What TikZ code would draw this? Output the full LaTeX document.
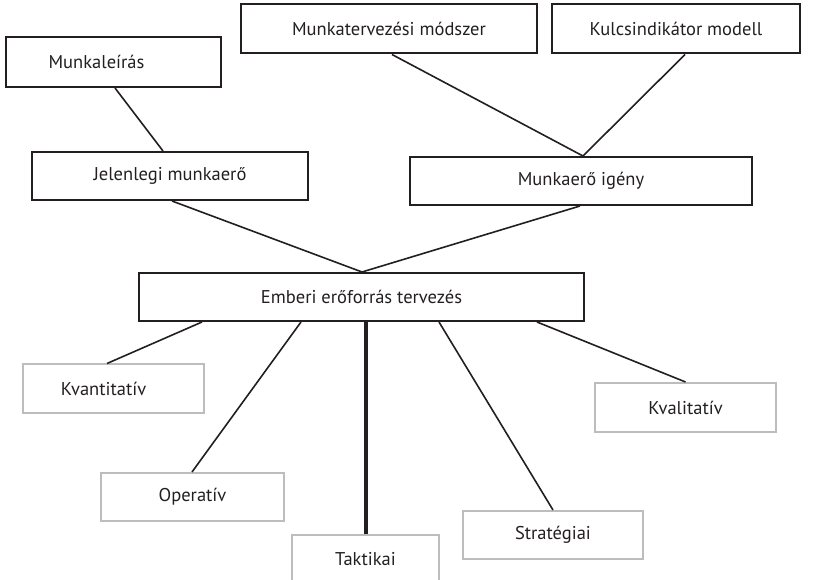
\documentclass[tikz,border=0pt]{standalone}
\usepackage{fontspec}
\setmainfont{PT Sans}
\definecolor{ink}{HTML}{231F20}
\definecolor{frame}{HTML}{BDBDBD}
\begin{document}
\begin{tikzpicture}[x=1pt,y=-1pt,
  every node/.style={font=\fontsize{18.5}{20}\selectfont, text=ink, inner sep=0pt},
  mainbox/.style={draw=ink, line width=2pt, rectangle},
  subbox/.style={draw=frame, line width=2pt, rectangle},
  link/.style={draw=ink, line width=1.6pt},
  boldlink/.style={draw=ink, line width=3.2pt}]
\useasboundingbox (0,0) rectangle (815,580);
\clip (0,0) rectangle (815,580);

% upper level boxes
\node[mainbox, minimum width=215pt, minimum height=50pt,
      label={[xshift=-17pt]center:Munkaleírás}] (leiras) at (113.5,62) {};
\node[mainbox, minimum width=296pt, minimum height=49pt] (modszer) at (389,29) {Munkatervezési módszer};
\node[mainbox, minimum width=248pt, minimum height=49pt] (kulcs) at (676,29) {Kulcsindikátor modell};
\node[mainbox, minimum width=276pt, minimum height=48pt] (jelen) at (170,176) {Jelenlegi munkaerő};
\node[mainbox, minimum width=342pt, minimum height=48pt] (igeny) at (581,181) {Munkaerő igény};
\node[mainbox, minimum width=445pt, minimum height=48pt] (eet) at (361.5,297) {Emberi erőforrás tervezés};

% planning dimensions
\node[subbox, minimum width=181pt, minimum height=49pt,
      label={[xshift=-10pt]center:Kvantitatív}] (kvant) at (113.5,389) {};
\node[subbox, minimum width=183pt, minimum height=48pt] (oper) at (192.5,497) {Operatív};
\node[subbox, minimum width=147pt, minimum height=48pt] (takt) at (365.5,559) {Taktikai};
\node[subbox, minimum width=180pt, minimum height=48pt] (strat) at (553,535) {Stratégiai};
\node[subbox, minimum width=181pt, minimum height=49pt] (kval) at (685.5,407.5) {Kvalitatív};

% connectors
\draw[link] ([xshift=1.5pt]leiras.south) -- ([xshift=-7pt]jelen.north);
\draw[link] ([xshift=3pt]modszer.south) -- ([xshift=2pt]igeny.north);
\draw[link] ([xshift=9pt]kulcs.south) -- ([xshift=2pt]igeny.north);
\draw[link] ([xshift=2pt]jelen.south) -- ([xshift=0.5pt]eet.north);
\draw[link] ([xshift=-1pt]igeny.south) -- ([xshift=0.5pt]eet.north);

\draw[link] ([xshift=-159.5pt]eet.south) -- ([xshift=-6.5pt]kvant.north);
\draw[link] ([xshift=-60.5pt]eet.south) -- ([xshift=-0.5pt]oper.north);
\draw[boldlink] ([xshift=4.5pt]eet.south) -- ([xshift=0.5pt]takt.north);
\draw[link] ([xshift=77.5pt]eet.south) -- (strat.north);
\draw[link] ([xshift=175.5pt]eet.south) -- (kval.north);
\end{tikzpicture}
\end{document}
